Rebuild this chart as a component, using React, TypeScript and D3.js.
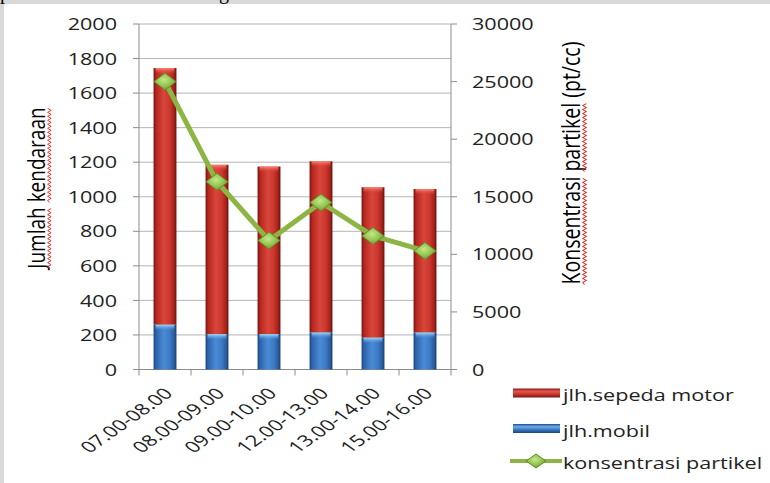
import React, { useLayoutEffect, useRef, useState } from "react";
import * as d3 from "d3";

// Hourly traffic counts and particle concentration
const categories = ["07.00-08.00", "08.00-09.00", "09.00-10.00", "12.00-13.00", "13.00-14.00", "15.00-16.00"];
const mobil = [260, 205, 205, 215, 185, 215];
const sepedaMotor = [1485, 980, 970, 990, 870, 830];
const konsentrasi = [25000, 16300, 11200, 14500, 11600, 10300];

const leftTicks = d3.range(0, 2001, 200);
const rightTicks = d3.range(0, 30001, 5000);
const legendLabels = ["jlh.sepeda motor", "jlh.mobil", "konsentrasi partikel"];

const W = 770;
const H = 483;
const FONT = "'Open Sans', sans-serif";
const SX = 1.27; // horizontal widening of the lettering

const plot = { left: 139, right: 451, top: 24, bottom: 369.5 };

const x = d3
  .scaleBand<string>()
  .domain(categories)
  .range([plot.left, plot.right])
  .paddingInner(0.56)
  .paddingOuter(0.28);
const yL = d3.scaleLinear().domain([0, 2000]).range([plot.bottom, plot.top]);
const yR = d3.scaleLinear().domain([0, 30000]).range([plot.bottom, plot.top]);
const cx = (c: string) => (x(c) as number) + x.bandwidth() / 2;

function wavy(x0: number, x1: number, y: number, amp = 1.4, step = 2): string {
  let d = `M${x0},${y}`;
  let up = true;
  for (let px = x0 + step; px <= x1; px += step) {
    d += `L${px},${y + (up ? -amp : amp)}`;
    up = !up;
  }
  return d;
}

function VerticalTitle(props: { x: number; y: number; text: string; words: string[]; size: number; sx: number }) {
  const { x: tx, y: ty, text, words, size, sx } = props;
  const ref = useRef<SVGTextElement>(null);
  const [spans, setSpans] = useState<[number, number][]>([]);
  useLayoutEffect(() => {
    const el = ref.current;
    if (!el) return;
    const out: [number, number][] = [];
    words.forEach((w) => {
      const i = text.indexOf(w);
      if (i < 0) return;
      const a = el.getStartPositionOfChar(i).x;
      const b = el.getEndPositionOfChar(i + w.length - 1).x;
      out.push([a, b]);
    });
    setSpans(out);
  }, [text]);
  return (
    <g transform={`translate(${tx},${ty}) scale(${sx},1) rotate(-90)`}>
      <text ref={ref} textAnchor="middle" fontFamily={FONT} fontSize={size} fill="#000">
        {text}
      </text>
      {spans.map(([a, b], i) => (
        <path key={i} d={wavy(a, b, 3.5)} fill="none" stroke="#e0231b" strokeWidth={0.8} />
      ))}
    </g>
  );
}

function Diamond({ px, py, w, h }: { px: number; py: number; w: number; h: number }) {
  return (
    <polygon
      points={`${px},${py - h / 2} ${px + w / 2},${py} ${px},${py + h / 2} ${px - w / 2},${py}`}
      fill="url(#diamondFill)"
      stroke="#5f8f28"
      strokeWidth={1}
    />
  );
}

export default function App() {
  const linePath = d3
    .line<number>()
    .x((_, i) => cx(categories[i]))
    .y((d) => yR(d))(konsentrasi);

  const legendY = [393, 428.5, 461];

  return (
    <svg width={W} height={H} style={{ position: "absolute", left: 0, top: 0, display: "block" }}>
      <defs>
        <linearGradient id="redBar" x1="0" x2="1" y1="0" y2="0">
          <stop offset="0" stopColor="#7a1411" />
          <stop offset="0.12" stopColor="#b5271f" />
          <stop offset="0.45" stopColor="#d9463b" />
          <stop offset="0.72" stopColor="#c9362c" />
          <stop offset="0.9" stopColor="#a2211b" />
          <stop offset="1" stopColor="#6a100e" />
        </linearGradient>
        <linearGradient id="blueBar" x1="0" x2="1" y1="0" y2="0">
          <stop offset="0" stopColor="#1c4680" />
          <stop offset="0.12" stopColor="#2e66ad" />
          <stop offset="0.45" stopColor="#4b8bd5" />
          <stop offset="0.72" stopColor="#3b79c3" />
          <stop offset="0.9" stopColor="#2a5c9c" />
          <stop offset="1" stopColor="#193e6f" />
        </linearGradient>
        <linearGradient id="redCap" x1="0" x2="0" y1="0" y2="1">
          <stop offset="0" stopColor="#ff8a78" stopOpacity={0.95} />
          <stop offset="1" stopColor="#d9463b" stopOpacity={0} />
        </linearGradient>
        <linearGradient id="blueCap" x1="0" x2="0" y1="0" y2="1">
          <stop offset="0" stopColor="#a5e2ff" stopOpacity={1} />
          <stop offset="1" stopColor="#4b8bd5" stopOpacity={0} />
        </linearGradient>
        <linearGradient id="redSwatch" x1="0" x2="0" y1="0" y2="1">
          <stop offset="0" stopColor="#8a1713" />
          <stop offset="0.3" stopColor="#e0574b" />
          <stop offset="0.6" stopColor="#cf3a30" />
          <stop offset="1" stopColor="#7a1411" />
        </linearGradient>
        <linearGradient id="blueSwatch" x1="0" x2="0" y1="0" y2="1">
          <stop offset="0" stopColor="#1f4a86" />
          <stop offset="0.3" stopColor="#6aaee8" />
          <stop offset="0.6" stopColor="#3d7bc6" />
          <stop offset="1" stopColor="#1c4276" />
        </linearGradient>
        <radialGradient id="diamondFill" cx="0.45" cy="0.4" r="0.6">
          <stop offset="0" stopColor="#c4e88a" />
          <stop offset="0.6" stopColor="#93c450" />
          <stop offset="1" stopColor="#6f9f33" />
        </radialGradient>
      </defs>

      {/* page frame */}
      <rect x={0} y={0} width={W} height={H} fill="#d9d9d9" />
      <text x={0} y={-1} fontFamily="'Liberation Serif', serif" fontSize={20} fill="#000">p</text>
      <text x={219} y={-1} fontFamily="'Liberation Serif', serif" fontSize={20} fill="#000">g</text>
      <rect x={4} y={4} width={W - 4} height={H - 4} fill="#ffffff" />

      {/* gridlines */}
      {leftTicks.slice(1).map((t) => (
        <line key={t} x1={plot.left} x2={plot.right} y1={yL(t)} y2={yL(t)} stroke="#b4b4b4" strokeWidth={1} />
      ))}

      {/* axes */}
      <line x1={plot.left} x2={plot.left} y1={plot.top} y2={plot.bottom} stroke="#8c8c8c" />
      <line x1={plot.right} x2={plot.right} y1={plot.top} y2={plot.bottom} stroke="#8c8c8c" />
      <line x1={plot.left} x2={plot.right} y1={plot.bottom} y2={plot.bottom} stroke="#8c8c8c" />
      {leftTicks.map((t) => (
        <line key={t} x1={plot.left - 6} x2={plot.left} y1={yL(t)} y2={yL(t)} stroke="#8c8c8c" />
      ))}
      {rightTicks.map((t) => (
        <line key={t} x1={plot.right} x2={plot.right + 6} y1={yR(t)} y2={yR(t)} stroke="#8c8c8c" />
      ))}
      {d3.range(categories.length + 1).map((i) => {
        const bx = plot.left + i * x.step();
        return <line key={i} x1={bx} x2={bx} y1={plot.bottom} y2={plot.bottom + 6} stroke="#8c8c8c" />;
      })}

      {/* tick labels */}
      {leftTicks.map((t) => (
        <g key={t} transform={`translate(117,${yL(t)}) scale(${SX},1)`}>
          <text textAnchor="end" dy="0.36em" fontFamily={FONT} fontSize={17} fill="#222">
            {t}
          </text>
        </g>
      ))}
      {rightTicks.map((t) => (
        <g key={t} transform={`translate(472,${yR(t)}) scale(${SX},1)`}>
          <text textAnchor="start" dy="0.36em" fontFamily={FONT} fontSize={17} fill="#222">
            {t}
          </text>
        </g>
      ))}
      {categories.map((c) => (
        <g key={c} transform={`translate(${cx(c) + 9},${plot.bottom + 25}) scale(1.42,1) rotate(-45)`}>
          <text textAnchor="end" fontFamily={FONT} fontSize={15.5} fill="#222">
            {c}
          </text>
        </g>
      ))}

      {/* stacked bars */}
      {categories.map((c, i) => {
        const bx = x(c) as number;
        const bw = x.bandwidth();
        const yM = yL(mobil[i]);
        const yT = yL(mobil[i] + sepedaMotor[i]);
        return (
          <g key={c}>
            <rect x={bx} y={yM} width={bw} height={plot.bottom - yM} fill="url(#blueBar)" />
            <rect x={bx + 2} y={yM} width={bw - 4} height={6} fill="url(#blueCap)" />
            <rect x={bx} y={yT} width={bw} height={yM - yT} fill="url(#redBar)" />
            <rect x={bx + 2} y={yT} width={bw - 4} height={6} fill="url(#redCap)" />
          </g>
        );
      })}

      {/* particle concentration line */}
      <path d={linePath ?? ""} fill="none" stroke="#8cb543" strokeWidth={5} strokeLinejoin="round" />
      {konsentrasi.map((v, i) => (
        <Diamond key={i} px={cx(categories[i])} py={yR(v)} w={22} h={17} />
      ))}

      {/* axis titles */}
      <VerticalTitle x={45} y={188} text="Jumlah kendaraan" words={["Jumlah", "kendaraan"]} size={19} sx={1.25} />
      <VerticalTitle
        x={580}
        y={163}
        text="Konsentrasi partikel (pt/cc)"
        words={["Konsentrasi", "partikel"]}
        size={19.5}
        sx={1.3}
      />

      {/* legend */}
      <rect x={513} y={legendY[0] - 4.5} width={47} height={9} fill="url(#redSwatch)" />
      <rect x={513} y={legendY[1] - 4.5} width={47} height={9} fill="url(#blueSwatch)" />
      <line x1={510} x2={562} y1={legendY[2]} y2={legendY[2]} stroke="#8cb543" strokeWidth={4} />
      <Diamond px={536} py={legendY[2]} w={20} h={14} />
      {legendLabels.map((l, i) => (
        <g key={l} transform={`translate(563,${legendY[i] + 2}) scale(${SX},1)`}>
          <text dy="0.36em" fontFamily={FONT} fontSize={17} fill="#222">
            {l}
          </text>
        </g>
      ))}
    </svg>
  );
}
